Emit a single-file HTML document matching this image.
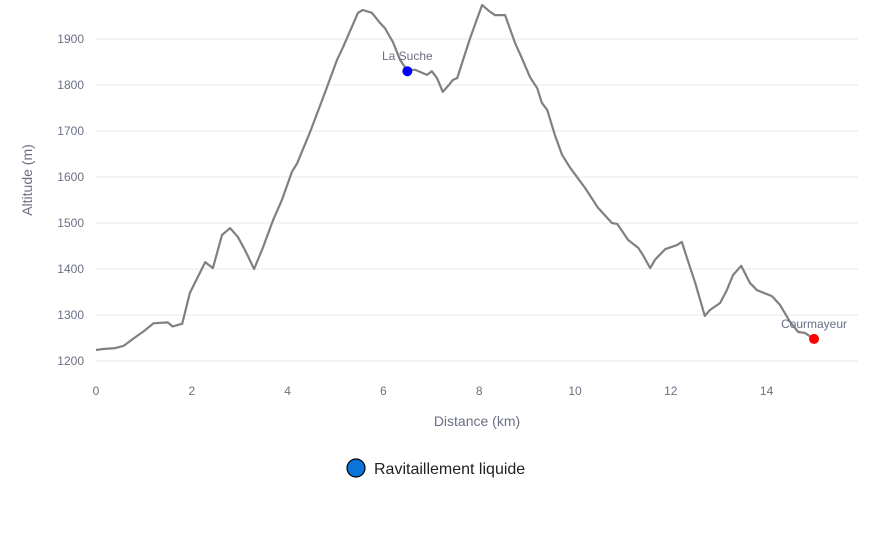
<!DOCTYPE html>
<html><head><meta charset="utf-8"><style>
body{margin:0;background:#fff;font-family:"Liberation Sans",sans-serif}
svg text{font-family:"Liberation Sans",sans-serif}
</style></head><body>
<svg id="chart" width="881" height="530" xmlns="http://www.w3.org/2000/svg">
<g id="grid"></g>
<g id="xt"></g>
<g id="yt"></g>
<path id="line" fill="none" stroke="#808080" stroke-width="2.2" stroke-linejoin="round"></path>
<g id="marks"></g>
<text x="477" y="426" text-anchor="middle" font-size="14" fill="#6b6f85">Distance (km)</text>
<text transform="translate(32,180) rotate(-90)" text-anchor="middle" font-size="14" fill="#6b6f85">Altitude (m)</text>
<g>
<circle cx="356" cy="468" r="9" fill="#0a74d8" stroke="#000" stroke-width="1.2"/>
<text x="374" y="474" font-size="16" fill="#222">Ravitaillement liquide</text>
</g>
</svg>
<script>
const dist=[0,0.15,0.4,0.58,0.77,1.0,1.2,1.5,1.6,1.8,1.96,2.28,2.44,2.63,2.8,2.96,3.11,3.3,3.49,3.7,3.88,4.09,4.2,4.47,4.74,5.03,5.16,5.47,5.57,5.76,5.93,6.03,6.2,6.35,6.49,6.66,6.91,7.01,7.12,7.24,7.35,7.45,7.54,7.81,8.06,8.23,8.33,8.54,8.75,8.89,9.06,9.21,9.31,9.42,9.58,9.73,9.9,10.21,10.48,10.77,10.88,11.0,11.11,11.32,11.42,11.57,11.67,11.88,12.13,12.23,12.4,12.51,12.71,12.82,13.03,13.17,13.3,13.47,13.65,13.8,14.11,14.28,14.49,14.66,14.8,14.99];
const alt=[1224,1226,1228,1233,1248,1265,1282,1284,1275,1281,1348,1415,1402,1474,1489,1470,1441,1400,1448,1507,1550,1611,1630,1698,1772,1854,1883,1957,1963,1957,1935,1924,1893,1854,1833,1833,1822,1830,1815,1785,1798,1811,1815,1902,1974,1959,1952,1952,1891,1859,1817,1793,1761,1746,1691,1648,1620,1576,1533,1500,1498,1480,1463,1446,1430,1402,1420,1443,1452,1459,1404,1370,1298,1311,1326,1354,1387,1407,1370,1354,1341,1322,1285,1263,1261,1248];
const xTicks=[0,2,4,6,8,10,12,14];
const yTicks=[1200,1300,1400,1500,1600,1700,1800,1900];
const stationNames=["La Suche","Courmayeur"];
const stationDist=[6.5,14.99];
const stationAlt=[1830,1248];
const stationColors=["#0000ff","#ff0000"];
const X=d=>96+d*47.9, Y=v=>361-(v-1200)*0.46;
const NS="http://www.w3.org/2000/svg";
function mk(t,a,p){const e=document.createElementNS(NS,t);for(const k in a)e.setAttribute(k,a[k]);p.appendChild(e);return e;}
const g=document.getElementById('grid'),xt=document.getElementById('xt'),yt=document.getElementById('yt'),mg=document.getElementById('marks');
yTicks.forEach(v=>{const l=mk('line',{x1:96,x2:858,y1:Y(v),y2:Y(v),stroke:'#e6e9ef','stroke-width':1},g);


const t=mk('text',{x:84,y:Y(v)+4,'text-anchor':'end','font-size':12,fill:'#6b6f85'},yt);t.textContent=v;

});
xTicks.forEach(v=>{const t=mk('text',{x:X(v),y:395,'text-anchor':'middle','font-size':12,fill:'#6b6f85'},xt);t.textContent=v;

});
document.getElementById('line').setAttribute('d',dist.map((d,i)=>(i?'L':'M')+X(d).toFixed(1)+','+Y(alt[i]).toFixed(1)).join(''));
stationNames.forEach((n,i)=>{const c=mk('circle',{cx:X(stationDist[i]),cy:Y(stationAlt[i]),r:5,fill:stationColors[i]},mg);


const t=mk('text',{x:X(stationDist[i]),y:Y(stationAlt[i])-11,'text-anchor':'middle','font-size':12,fill:'#6b6f85'},mg);t.textContent=n;

});
</script>
</body></html>
